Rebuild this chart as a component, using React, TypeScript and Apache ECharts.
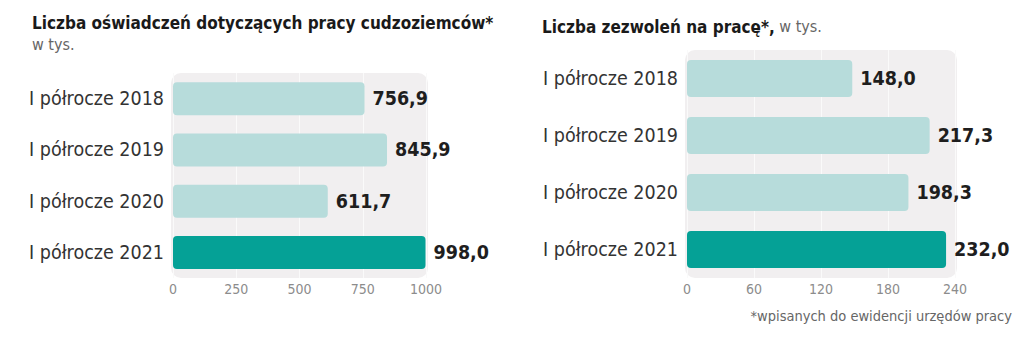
import React, { useEffect, useRef } from "react";
import * as echarts from "echarts";

const categories = ["I półrocze 2018", "I półrocze 2019", "I półrocze 2020", "I półrocze 2021"];
const declarations = [756.9, 845.9, 611.7, 998.0];
const permits = [148.0, 217.3, 198.3, 232.0];
const leftTicks = [0, 250, 500, 750, 1000];
const rightTicks = [0, 60, 120, 180, 240];

const LIGHT = "#b7dcdb";
const DARK = "#05a196";
const BG = "#f1eff0";
const FONT = "'DejaVu Sans Condensed', 'Liberation Sans Narrow', Roboto, sans-serif";

const G1 = { left: 173, top: 73, width: 253, height: 205 };
const G2 = { left: 687, top: 50, width: 268, height: 228 };

function fmt(v: number) {
  return v.toFixed(1).replace(".", ",");
}

export default function App() {
  const ref = useRef<HTMLDivElement>(null);
  useEffect(() => {
    const chart = echarts.init(ref.current!, null, { renderer: "svg" });
    const barData = (vals: number[]) =>
      vals.map((v, i) => ({
        value: v,
        itemStyle: { color: i === vals.length - 1 ? DARK : LIGHT },
      }));
    const valueLabel = {
      show: true,
      position: "right",
      distance: 8,
      formatter: (p: any) => fmt(p.value),
      fontFamily: FONT,
      fontWeight: "bold",
      fontSize: 19.5,
      color: "#1e1e1e",
    };
    const xAxisCommon = {
      type: "value",
      axisLine: { show: false },
      axisTick: { show: false },
      axisLabel: {
        color: "#8c8c8c",
        fontSize: 14,
        fontFamily: FONT,
        margin: 4,
        formatter: (v: number) => String(v),
      },
      splitLine: { show: true, lineStyle: { color: "#fafafa", width: 1 } },
    };
    const yAxisCommon = {
      type: "category",
      data: categories,
      inverse: true,
      axisLine: { show: false },
      axisTick: { show: false },
      axisLabel: { color: "#333", fontSize: 19.5, fontFamily: FONT, margin: 9 },
    };
    chart.setOption({
      animation: false,
      backgroundColor: "#fff",
      title: [
        {
          text: "Liczba oświadczeń dotyczących pracy cudzoziemców*",
          left: 27,
          top: 9,
          textStyle: { fontFamily: FONT, fontWeight: "bold", fontSize: 17, color: "#1a1a1a" },
        },
        {
          text: "w tys.",
          left: 27,
          top: 31,
          textStyle: { fontFamily: FONT, fontWeight: "normal", fontSize: 16, color: "#666" },
        },
        {
          text: "{b|Liczba zezwoleń na pracę*,}{r| w tys.}",
          left: 537,
          top: 13,
          textStyle: {
            rich: {
              b: { fontFamily: FONT, fontWeight: "bold", fontSize: 17, color: "#1a1a1a" },
              r: { fontFamily: FONT, fontWeight: "normal", fontSize: 16, color: "#666" },
            },
          },
        },
        {
          text: "*wpisanych do ewidencji urzędów pracy",
          right: 7,
          top: 303,
          textStyle: { fontFamily: FONT, fontWeight: "normal", fontSize: 14.5, color: "#666" },
        },
      ],
      graphic: [
        {
          type: "rect",
          z: -10,
          shape: { x: G1.left - 2, y: G1.top, width: G1.width + 4, height: G1.height, r: 10 },
          style: { fill: BG },
        },
        {
          type: "rect",
          z: -10,
          shape: { x: G2.left - 2, y: G2.top, width: G2.width + 4, height: G2.height, r: 10 },
          style: { fill: BG },
        },
      ],
      grid: [
        { ...G1, containLabel: false },
        { ...G2, containLabel: false },
      ],
      xAxis: [
        { ...xAxisCommon, gridIndex: 0, min: leftTicks[0], max: leftTicks[leftTicks.length - 1], interval: 250 },
        { ...xAxisCommon, gridIndex: 1, min: rightTicks[0], max: rightTicks[rightTicks.length - 1], interval: 60 },
      ],
      yAxis: [
        { ...yAxisCommon, gridIndex: 0 },
        { ...yAxisCommon, gridIndex: 1 },
      ],
      series: [
        {
          type: "bar",
          xAxisIndex: 0,
          yAxisIndex: 0,
          barWidth: 33,
          data: barData(declarations),
          itemStyle: { borderRadius: 4 },
          label: valueLabel,
        },
        {
          type: "bar",
          xAxisIndex: 1,
          yAxisIndex: 1,
          barWidth: 37,
          data: barData(permits),
          itemStyle: { borderRadius: 4 },
          label: valueLabel,
        },
      ],
    });
    return () => chart.dispose();
  }, []);
  return <div ref={ref} style={{ position: "absolute", left: 0, top: 0, width: 1024, height: 353 }} />;
}
